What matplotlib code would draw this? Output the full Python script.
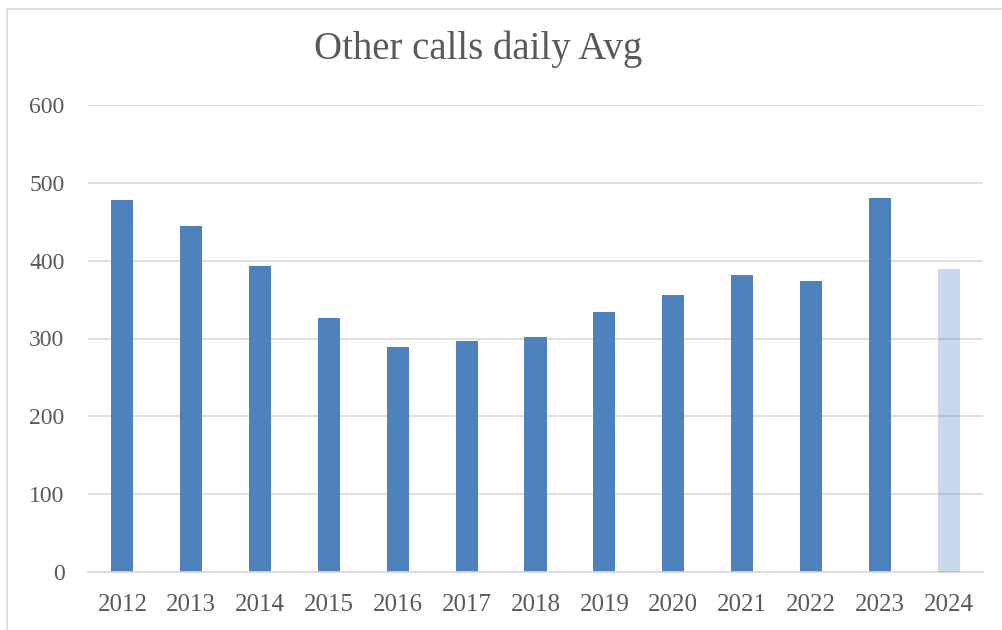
import matplotlib.pyplot as plt
from matplotlib.patches import Rectangle

years = ['2012', '2013', '2014', '2015', '2016', '2017', '2018',
         '2019', '2020', '2021', '2022', '2023', '2024']
values = [478, 445, 393, 326, 289, 297, 302, 334, 356, 382, 374, 481, 389]
yticks = [0, 100, 200, 300, 400, 500, 600]

blue = '#4F81BD'
text_col = '#595959'
grid_col = '#D9D9D9'

plt.rcParams['font.family'] = ['Liberation Serif', 'DejaVu Serif']

fig = plt.figure(figsize=(10.02, 6.3), dpi=100)
ax = fig.add_axes([88 / 1002, 1 - 572 / 630, (983 - 88) / 1002, (572 - 105) / 630])

# chart frame
fig.patches.append(Rectangle((7 / 1002, -0.1), 1.1, 1 - 9 / 630 + 0.1,
                             transform=fig.transFigure, fill=False,
                             edgecolor='#D9D9D9', linewidth=1.2))

x = list(range(len(years)))
ax.bar(x[:-1], values[:-1], width=0.32, color=blue, zorder=2)
ax.bar(x[-1], values[-1], width=0.32, color=blue, alpha=0.3, zorder=3)

ax.set_xlim(-0.5, len(years) - 0.5)
ax.set_ylim(0, 600)
ax.set_yticks(yticks)
ax.set_xticks(x)
ax.set_xticklabels(years)
ax.yaxis.grid(True, color=grid_col, linewidth=1.2, zorder=0)
ax.set_axisbelow(True)
for s in ['top', 'right', 'left']:
    ax.spines[s].set_visible(False)
ax.spines['bottom'].set_color(grid_col)
ax.spines['bottom'].set_linewidth(1.2)
ax.tick_params(axis='both', length=0, colors=text_col)
ax.tick_params(axis='x', labelsize=18, pad=16)
ax.tick_params(axis='y', labelsize=17, pad=17)

fig.text(0.477, 0.922, 'Other calls daily Avg', ha='center', va='center',
         fontsize=28, color=text_col)

fig.savefig('out.png', dpi=100)
